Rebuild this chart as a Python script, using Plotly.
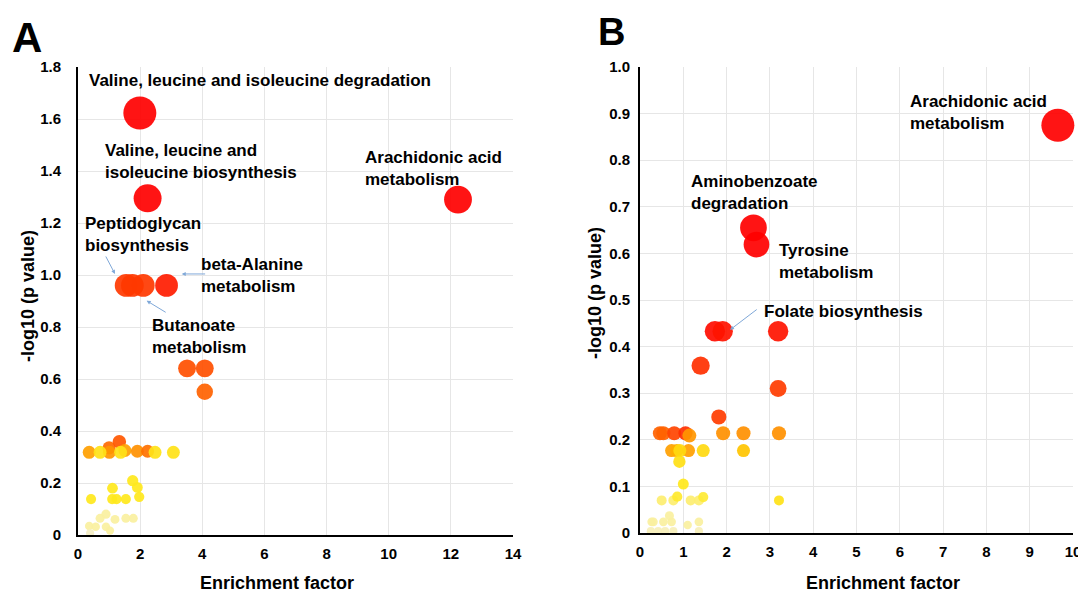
import plotly.graph_objects as go

PAGE_W, PAGE_H = 1086, 592
OFF = 8  # default page body margin in the written html
W, H = PAGE_W - OFF, PAGE_H - OFF

# ---------------- Panel A data ----------------
a_x = [1.99, 2.24, 12.23, 1.55, 1.75, 2.10, 2.85, 3.51, 4.08, 4.08,
       0.36, 1.00, 1.01, 1.33, 1.51, 1.91, 2.24,
       0.71, 1.37, 2.48, 3.07,
       0.42, 1.11, 1.10, 1.24, 1.54, 1.76, 1.91, 1.97,
       0.90, 0.71, 1.19, 1.54, 1.78, 0.36, 0.57, 0.90, 1.03, 0.39]
a_y = [1.623, 1.295, 1.290, 0.960, 0.960, 0.960, 0.960, 0.641, 0.641, 0.551,
       0.318, 0.335, 0.318, 0.359, 0.325, 0.322, 0.322,
       0.318, 0.318, 0.318, 0.318,
       0.138, 0.180, 0.138, 0.138, 0.138, 0.209, 0.183, 0.147,
       0.080, 0.064, 0.060, 0.064, 0.064, 0.035, 0.032, 0.032, 0.017, 0.007]
a_impact = [1.0, 1.0, 1.0, 0.86, 0.86, 0.86, 0.93, 0.80, 0.80, 0.75,
            0.55, 0.72, 0.58, 0.78, 0.55, 0.60, 0.70,
            0.32, 0.32, 0.32, 0.32,
            0.30, 0.30, 0.30, 0.30, 0.30, 0.30, 0.30, 0.30,
            0.12, 0.12, 0.12, 0.12, 0.12, 0.12, 0.12, 0.12, 0.12, 0.02]

# ---------------- Panel B data ----------------
b_x = [9.65, 2.62, 2.69, 1.73, 1.91, 3.19, 1.40, 3.19, 1.82,
       0.46, 0.54, 0.79, 1.05, 1.14, 1.92, 2.39, 3.21,
       0.73, 0.85, 1.12, 0.92, 1.46, 2.39,
       0.91, 1.00,
       0.50, 0.77, 0.86, 1.17, 1.36, 1.46, 3.21,
       0.27, 0.31, 0.54, 0.73, 1.36, 0.68, 1.10]
b_y = [0.875, 0.655, 0.619, 0.433, 0.433, 0.433, 0.359, 0.310, 0.249,
       0.214, 0.214, 0.214, 0.214, 0.209, 0.214, 0.214, 0.214,
       0.177, 0.177, 0.177, 0.177, 0.177, 0.177,
       0.153, 0.105,
       0.070, 0.070, 0.078, 0.070, 0.070, 0.077, 0.070,
       0.024, 0.024, 0.024, 0.024, 0.024, 0.037, 0.017]
b_impact = [1.0, 1.0, 1.0, 0.97, 0.95, 0.95, 0.88, 0.85, 0.85,
            0.75, 0.75, 0.83, 0.88, 0.58, 0.60, 0.60, 0.60,
            0.55, 0.50, 0.55, 0.35, 0.35, 0.42,
            0.33, 0.30,
            0.20, 0.20, 0.28, 0.20, 0.20, 0.27, 0.32,
            0.12, 0.12, 0.12, 0.12, 0.12, 0.12, 0.12]
# points sitting on the x axis (clipped by the axis)
b_x_low = [0.25, 0.42, 0.58, 0.77, 1.36]
b_y_low = [0.004, 0.004, 0.004, 0.004, 0.004]
b_impact_low = [0.05, 0.05, 0.05, 0.05, 0.05]

a_xticks = [0, 2, 4, 6, 8, 10, 12, 14]
a_yticks = [0, 0.2, 0.4, 0.6, 0.8, 1.0, 1.2, 1.4, 1.6, 1.8]
a_yticktext = ["0", "0.2", "0.4", "0.6", "0.8", "1.0", "1.2", "1.4", "1.6", "1.8"]
b_xticks = [0, 1, 2, 3, 4, 5, 6, 7, 8, 9, 10]
b_yticks = [0, 0.1, 0.2, 0.3, 0.4, 0.5, 0.6, 0.7, 0.8, 0.9, 1.0]
b_yticktext = ["0", "0.1", "0.2", "0.3", "0.4", "0.5", "0.6", "0.7", "0.8", "0.9", "1.0"]

colorscale = [
    [0.00, "#f3eecb"],
    [0.12, "#faf0a0"],
    [0.20, "#fdee70"],
    [0.30, "#ffe81c"],
    [0.42, "#ffc400"],
    [0.55, "#ffa000"],
    [0.65, "#ff8000"],
    [0.75, "#ff6200"],
    [0.85, "#ff3c00"],
    [1.00, "#ff0000"],
]


def sizes(vals, vmax):
    return [8 + 25 * v / vmax for v in vals]


FONT = "Liberation Sans, Arial, sans-serif"

fig = go.Figure()


def add_pts(x, y, c, vmax, xa, ya, clip=False):
    fig.add_trace(go.Scatter(
        x=x, y=y, mode="markers", xaxis=xa, yaxis=ya, cliponaxis=clip,
        marker=dict(size=sizes(y, vmax), color=c, colorscale=colorscale,
                    cmin=0, cmax=1, opacity=0.92,
                    line=dict(width=0)),
        showlegend=False, hoverinfo="x+y"))


a_max = max(a_y)
b_max = max(b_y)
add_pts(b_x_low, b_y_low, b_impact_low, b_max, "x2", "y2", clip=True)
add_pts(a_x, a_y, a_impact, a_max, "x", "y")
add_pts(b_x, b_y, b_impact, b_max, "x2", "y2")


def px_x(p):
    return (p - OFF) / W


def px_y(p):
    return 1 - (p - OFF) / H


axis_common = dict(showline=True, linecolor="black", linewidth=2,
                   showgrid=True, gridcolor="#e6e6e6", gridwidth=1,
                   zeroline=False, ticks="", mirror=False, automargin=False,
                   tickfont=dict(family=FONT, size=15, color="black", weight="bold"))

fig.update_layout(
    width=W, height=H,
    margin=dict(l=0, r=0, t=0, b=0, autoexpand=False),
    paper_bgcolor="white", plot_bgcolor="white",
    font=dict(family=FONT, color="black"),
    xaxis=dict(domain=[px_x(78), px_x(513)], range=[0, 14], anchor="y",
               tickvals=a_xticks, ticklabelstandoff=4, **axis_common),
    yaxis=dict(domain=[px_y(535), px_y(67)], range=[0, 1.8], anchor="x",
               tickvals=a_yticks, ticktext=a_yticktext, ticklabelstandoff=12,
               **axis_common),
    xaxis2=dict(domain=[px_x(640), px_x(1073)], range=[0, 10], anchor="y2",
                tickvals=b_xticks, ticklabelstandoff=4, **axis_common),
    yaxis2=dict(domain=[px_y(533), px_y(67)], range=[0, 1.0], anchor="x2",
                tickvals=b_yticks, ticktext=b_yticktext, ticklabelstandoff=5,
                **axis_common),
)

ann_font = dict(family=FONT, size=17, color="black", weight="bold")
ARROW = "#7fa8d8"

labels_a = [
    (0.29, 1.750, "Valine, leucine and isoleucine degradation"),
    (0.80, 1.438, "Valine, leucine and<br>isoleucine biosynthesis"),
    (9.17, 1.410, "Arachidonic acid<br>metabolism"),
    (0.16, 1.154, "Peptidoglycan<br>biosynthesis"),
    (3.89, 1.000, "beta-Alanine<br>metabolism"),
    (2.32, 0.762, "Butanoate<br>metabolism"),
]
labels_b = [
    (6.19, 0.903, "Arachidonic acid<br>metabolism"),
    (1.13, 0.731, "Aminobenzoate<br>degradation"),
    (3.16, 0.583, "Tyrosine<br>metabolism"),
    (2.82, 0.475, "Folate biosynthesis"),
]
for x, y, t in labels_a:
    fig.add_annotation(x=x, y=y, xref="x", yref="y", text=t, showarrow=False,
                       xanchor="left", yanchor="middle", align="left", font=ann_font)
for x, y, t in labels_b:
    fig.add_annotation(x=x, y=y, xref="x2", yref="y2", text=t, showarrow=False,
                       xanchor="left", yanchor="middle", align="left", font=ann_font)

arrows_a = [((1.19, 1.004), (0.87, 1.077)),
            ((2.21, 0.901), (2.87, 0.853)),
            ((3.34, 1.004), (4.14, 1.004))]
arrows_b = [((2.08, 0.436), (2.73, 0.482))]
for (hx, hy), (tx, ty) in arrows_a:
    fig.add_annotation(x=hx, y=hy, ax=tx, ay=ty, xref="x", yref="y",
                       axref="x", ayref="y", text="", showarrow=True,
                       arrowhead=2, arrowsize=0.8, arrowwidth=1, arrowcolor=ARROW)
for (hx, hy), (tx, ty) in arrows_b:
    fig.add_annotation(x=hx, y=hy, ax=tx, ay=ty, xref="x2", yref="y2",
                       axref="x2", ayref="y2", text="", showarrow=True,
                       arrowhead=2, arrowsize=0.8, arrowwidth=1, arrowcolor=ARROW)


def paper_text(px, py, text, font, angle=0):
    fig.add_annotation(x=px_x(px), y=px_y(py), xref="paper", yref="paper",
                       text=text, showarrow=False, textangle=angle,
                       xanchor="center", yanchor="middle", font=font)


title_font = dict(family=FONT, size=18, color="black", weight="bold")
paper_text(277, 583, "Enrichment factor", title_font)
paper_text(883, 583, "Enrichment factor", title_font)
paper_text(28, 296, "-log10 (p value)", title_font, -90)
paper_text(595, 293, "-log10 (p value)", title_font, -90)
paper_text(27, 38, "A", dict(family=FONT, size=42, color="black", weight="bold"))
paper_text(611, 32, "B", dict(family=FONT, size=38, color="black", weight="bold"))

fig.write_html("out.html")
